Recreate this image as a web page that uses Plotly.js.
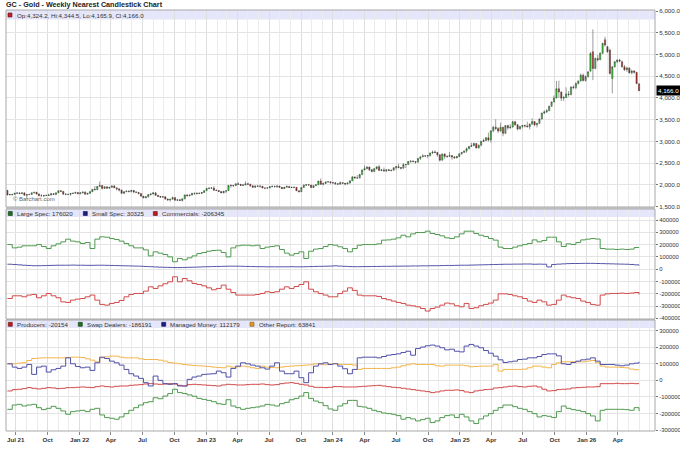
<!DOCTYPE html>
<html>
<head>
<meta charset="utf-8">
<script src="https://cdn.plot.ly/plotly-3.0.1.min.js"></script>
<style>
  html, body { margin: 0; padding: 0; background: #fff; }
  #chart { width: 680px; height: 453px; }
</style>
</head>
<body>
<div id="chart"></div>
<script>
// Weekly candles, first bar is the week of 2021-06-07, one bar per week
var opens = [
	1877,1769,1781,1783,1810,1815,1802,1817,1763,1779,
	1781,1819,1833,1792,1751,1751,1760,1757,1768,1796,
	1784,1818,1868,1852,1788,1784,1784,1805,1811,1829,
	1797,1818,1835,1786,1808,1842,1900,1889,1967,1985,
	1921,1958,1924,1945,1974,1934,1911,1882,1808,1842,
	1857,1850,1875,1840,1830,1801,1742,1703,1727,1781,
	1791,1818,1762,1738,1722,1728,1675,1655,1672,1709,
	1648,1657,1645,1681,1771,1754,1768,1809,1810,1800,
	1805,1826,1870,1921,1928,1929,1876,1874,1850,1817,
	1856,1868,1989,1983,1986,2025,2015,1990,1999,2025,
	2019,1981,1946,1969,1977,1971,1929,1929,1932,1961,
	1965,1960,1976,1946,1915,1947,1966,1942,1946,1945,
	1866,1845,1941,1994,2006,1999,1939,1984,2003,2089,
	2014,2035,2069,2071,2049,2051,2029,2018,2053,2038,
	2024,2045,2095,2185,2161,2158,2238,2345,2374,2413,
	2347,2310,2375,2418,2334,2345,2325,2349,2334,2339,
	2397,2421,2399,2386,2470,2470,2538,2546,2537,2525,
	2610,2646,2668,2667,2676,2736,2755,2749,2694,2570,
	2712,2657,2656,2675,2645,2621,2654,2715,2748,2778,
	2835,2887,2900,2953,2848,2914,3001,3022,3086,3035,
	3245,3328,3298,3240,3329,3187,3365,3315,3331,3452,
	3385,3287,3342,3365,3358,3337,3399,3458,3382,3418,
	3516,3653,3680,3705,3809,3908,4000,4213,4137,3996,
	4010,4094,4080,4255,4240,4330,4390,4525,4400,4490,
	4620,5063,4680,4910,4880,5030,5340,5178,5101,4449,
	4717,4833,4871,4833,4717,4650,4690,4580,4620,4590,
	4324.2
];
var highs = [
	1879,1797,1792,1818,1833,1834,1834,1832,1782,1796,
	1823,1836,1835,1809,1787,1766,1780,1800,1815,1813,
	1820,1870,1878,1860,1810,1793,1815,1816,1832,1830,
	1830,1848,1853,1810,1865,1903,1976,1972,2078,1995,
	1966,1961,1948,1990,2002,1935,1920,1890,1850,1870,
	1875,1880,1880,1847,1830,1810,1746,1740,1785,1810,
	1832,1825,1766,1740,1735,1740,1690,1675,1730,1712,
	1670,1680,1685,1776,1786,1770,1815,1815,1830,1830,
	1836,1872,1925,1940,1950,1975,1895,1880,1850,1860,
	1870,1995,2014,2000,2040,2063,2020,2020,2085,2048,
	2020,1985,1995,1985,1985,1975,1935,1945,1970,1990,
	1985,1985,1980,1950,1950,1985,1970,1955,1962,1950,
	1875,1945,2010,2010,2010,2000,1990,2010,2095,2150,
	2050,2080,2090,2080,2070,2060,2040,2080,2060,2040,
	2050,2100,2203,2190,2225,2255,2350,2448,2430,2420,
	2370,2385,2425,2460,2370,2400,2350,2370,2345,2400,
	2430,2485,2410,2500,2475,2550,2570,2570,2545,2615,
	2650,2710,2690,2690,2740,2790,2800,2760,2700,2720,
	2725,2680,2760,2680,2660,2670,2725,2760,2790,2860,
	2895,2970,2975,2955,2930,3017,3065,3100,3200,3250,
	3360,3509,3330,3435,3330,3370,3380,3400,3475,3475,
	3400,3365,3375,3390,3455,3415,3534,3460,3425,3530,
	3660,3715,3745,3820,3920,4060,4392,4398,4150,4050,
	4245,4160,4260,4290,4360,4400,4560,4560,4520,4620,
	5060,5577,4930,4990,5050,5270,5409,5200,5130,4730,
	4850,4890,4900,4860,4760,4720,4700,4650,4640,4600,
	4344.5
];
var lows = [
	1761,1766,1750,1780,1794,1789,1796,1759,1677,1770,
	1777,1806,1782,1745,1738,1721,1746,1750,1760,1770,
	1760,1815,1846,1780,1762,1769,1754,1791,1802,1784,
	1790,1806,1780,1780,1800,1840,1880,1885,1960,1896,
	1915,1915,1918,1943,1931,1872,1850,1800,1790,1838,
	1828,1825,1806,1820,1785,1732,1696,1697,1711,1754,
	1785,1756,1720,1700,1703,1665,1640,1615,1668,1642,
	1634,1640,1616,1673,1734,1736,1760,1770,1785,1795,
	1798,1822,1865,1905,1915,1870,1860,1835,1810,1810,
	1810,1865,1935,1950,1977,2000,1975,1980,1995,2000,
	1955,1935,1935,1955,1940,1925,1900,1912,1928,1950,
	1945,1935,1940,1905,1910,1940,1935,1925,1930,1860,
	1830,1840,1935,1975,1985,1935,1935,1975,2000,2010,
	1990,2030,2060,2035,2020,2005,2010,2015,2030,1995,
	2015,2030,2090,2150,2150,2155,2235,2340,2365,2320,
	2290,2300,2355,2325,2320,2300,2295,2325,2310,2330,
	2350,2385,2355,2375,2390,2465,2510,2520,2490,2510,
	2575,2640,2640,2620,2650,2710,2730,2650,2540,2565,
	2600,2620,2650,2580,2610,2615,2640,2700,2740,2740,
	2820,2880,2895,2845,2845,2890,2995,3010,3000,2975,
	3210,3260,3200,3230,3120,3180,3270,3290,3320,3360,
	3255,3275,3300,3320,3330,3275,3380,3350,3320,3405,
	3510,3630,3655,3700,3800,3900,3990,4005,3930,3930,
	4000,4030,4060,4200,4200,4310,4380,4380,4380,4470,
	4600,4410,4660,4840,4870,5010,5180,5040,4540,4103,
	4700,4800,4820,4700,4620,4600,4560,4540,4560,4320,
	4165.9
];
var closes = [
	1769,1781,1783,1810,1815,1802,1817,1763,1779,1781,
	1819,1833,1792,1751,1751,1760,1757,1768,1796,1784,
	1818,1868,1852,1788,1784,1784,1805,1811,1829,1797,
	1818,1835,1786,1808,1842,1900,1889,1967,1985,1921,
	1958,1924,1945,1974,1934,1911,1882,1808,1842,1857,
	1850,1875,1840,1830,1801,1742,1703,1727,1781,1791,
	1818,1762,1738,1722,1728,1675,1655,1672,1709,1648,
	1657,1645,1681,1771,1754,1768,1809,1810,1800,1805,
	1826,1870,1921,1928,1929,1876,1874,1850,1817,1856,
	1868,1989,1983,1986,2025,2015,1990,1999,2025,2019,
	1981,1946,1969,1977,1971,1929,1929,1932,1961,1965,
	1960,1976,1946,1915,1947,1966,1942,1946,1945,1866,
	1845,1941,1994,2006,1999,1939,1984,2003,2089,2014,
	2035,2069,2071,2049,2051,2029,2018,2053,2038,2024,
	2045,2095,2185,2161,2158,2238,2345,2374,2413,2347,
	2310,2375,2418,2334,2345,2325,2349,2334,2339,2397,
	2421,2399,2386,2470,2470,2538,2546,2537,2525,2610,
	2646,2668,2667,2676,2736,2755,2749,2694,2570,2712,
	2657,2656,2675,2645,2621,2654,2715,2748,2778,2835,
	2887,2900,2953,2848,2914,3001,3022,3086,3035,3245,
	3328,3298,3240,3329,3187,3365,3315,3331,3452,3385,
	3287,3342,3365,3358,3337,3399,3458,3382,3418,3516,
	3653,3680,3705,3809,3908,4000,4213,4137,3996,4010,
	4094,4080,4255,4240,4330,4390,4525,4400,4490,4600,
	5020,4679,4910,4880,5030,5255,5217,5063,4564,4717,
	4833,4871,4850,4717,4650,4690,4580,4620,4590,4330,
	4166.0
];

// COT positions in thousands of contracts, one value every 2 weeks from 2021-06-07
var largeSpec = [
	200,173,179,190,190,190,200,184,168,190,
	206,222,244,228,222,209,217,168,244,263,
	260,249,241,228,209,190,173,173,157,108,
	141,130,119,100,60,87,76,92,108,127,
	135,146,152,154,135,100,173,190,195,195,
	190,195,168,179,184,190,160,130,114,127,
	141,87,146,163,168,184,200,
	195,182,168,141,168,195,200,200,200,206,
	236,238,244,255,276,263,287,298,298,309,
	290,282,271,255,249,263,287,309,309,290,
	276,266,249,236,179,168,168,179,190,200,
	209,238,222,233,260,260,222,184,206,200,
	217,238,244,249,245,168,163,163,160,163,
	160,163,176,176.02
];
var smallSpec = [
	40,38,35,32,30,28,28,29,30,31,
	32,32,32,33,32,32,31,31,32,32,
	31,30,29,28,27,26,25,24,22,20,
	18,16,15,14,13,13,14,15,16,17,
	19,20,21,22,23,24,24,24,23,22,
	21,20,20,19,19,19,19,19,20,19,
	19,20,21,22,23,24,25,
	27,25,23,21,20,20,21,21,22,22,
	23,23,24,24,25,25,26,26,27,27,
	28,28,29,30,30,31,32,32,33,34,
	35,36,37,38,39,40,40,41,41,42,
	42,40,41,40,18,38,41,43,45,46,
	46,47,47,47,46,45,44,43,42,41,
	40,38,35,30.325
];
var commercials = [
	-239,-217,-217,-225,-211,-206,-233,-217,-198,-217,
	-233,-266,-271,-252,-244,-239,-225,-211,-252,-287,
	-293,-279,-271,-255,-225,-206,-198,-198,-179,-144,
	-157,-136,-119,-103,-62,-103,-76,-95,-117,-125,
	-136,-152,-168,-157,-130,-163,-190,-211,-211,-211,
	-211,-206,-198,-184,-190,-184,-163,-144,-157,-141,
	-125,-103,-163,-184,-198,-211,-225,
	-225,-198,-179,-152,-173,-211,-217,-217,-217,-222,
	-239,-249,-260,-271,-279,-293,-298,-306,-320,-341,
	-320,-309,-293,-276,-282,-298,-306,-279,-320,-314,
	-298,-287,-276,-252,-201,-201,-206,-217,-225,-239,
	-260,-271,-252,-266,-293,-287,-252,-211,-225,-233,
	-239,-260,-271,-287,-293,-211,-201,-198,-198,-195,
	-198,-195,-190,-206.345
];
var producers = [
	-64,-56,-54,-50,-44,-48,-52,-48,-44,-46,
	-50,-48,-44,-44,-42,-40,-42,-44,-38,-34,
	-38,-40,-36,-34,-34,-30,-28,-26,-22,-20,
	-22,-24,-22,-20,-22,-30,-34,-26,-24,-26,
	-28,-30,-32,-34,-28,-24,-26,-28,-28,-26,
	-24,-24,-22,-26,-28,-26,-20,-16,-14,-18,
	-24,-28,-36,-42,-42,-44,-42,
	-38,-38,-40,-40,-40,-38,-36,-34,-32,-30,
	-34,-38,-42,-44,-48,-52,-56,-60,-64,-68,
	-74,-70,-64,-60,-60,-58,-62,-70,-74,-64,
	-60,-56,-54,-46,-44,-40,-36,-34,-38,-40,
	-36,-34,-40,-54,-64,-62,-56,-54,-52,-46,
	-44,-42,-40,-40,-38,-20,-20,-20,-18,-20,
	-20,-18,-20,-20.154
];
var swapDealers = [
	-175,-149,-145,-155,-149,-145,-165,-177,-169,-157,
	-169,-185,-205,-189,-185,-181,-189,-175,-169,-209,
	-225,-229,-235,-221,-201,-181,-165,-149,-135,-129,
	-105,-111,-95,-80,-54,-74,-80,-88,-96,-109,
	-115,-121,-129,-141,-145,-117,-155,-165,-175,-169,
	-165,-161,-155,-145,-149,-155,-141,-133,-117,-109,
	-95,-74,-109,-125,-135,-153,-173,
	-181,-155,-141,-121,-121,-157,-161,-169,-181,-189,
	-197,-201,-205,-213,-235,-225,-233,-245,-237,-229,
	-255,-245,-225,-213,-209,-225,-205,-221,-245,-261,
	-233,-215,-201,-181,-165,-149,-149,-159,-169,-175,
	-189,-201,-221,-213,-217,-225,-189,-155,-169,-177,
	-181,-189,-201,-215,-245,-181,-175,-175,-175,-175,
	-177,-181,-165,-186.191
];
var managedMoney = [
	100,80,72,80,96,36,80,86,50,64,
	72,86,136,100,84,76,80,60,106,140,
	132,116,106,92,66,40,26,12,-14,-34,
	26,0,-20,-24,-20,-34,-34,6,20,26,
	36,38,40,56,46,20,72,86,106,100,
	92,86,76,68,86,106,56,40,40,56,
	16,-14,46,86,100,106,96,
	100,86,70,40,66,136,140,140,140,136,
	144,152,156,160,168,176,152,192,201,209,
	213,207,197,184,188,176,172,207,217,207,
	197,180,164,146,124,108,112,116,126,128,
	136,136,144,156,160,160,148,100,96,108,
	116,124,128,136,116,96,96,96,92,88,
	92,100,104,112.179
];
var otherReport = [
	100,100,104,106,120,132,134,136,136,136,
	136,136,138,140,140,138,130,122,112,136,
	142,146,146,140,136,136,136,130,126,126,
	126,122,116,108,104,100,96,92,90,88,
	86,84,80,78,76,86,80,82,86,82,
	76,72,86,80,78,76,80,84,86,88,
	90,92,94,100,98,94,98,
	102,96,96,96,92,66,72,72,72,72,
	72,72,76,80,88,94,100,96,96,96,
	96,88,86,92,92,92,92,88,82,84,
	86,86,86,96,56,66,66,66,66,68,
	76,86,86,80,76,96,106,112,112,112,
	112,112,116,120,106,86,80,80,80,78,
	76,68,64,63.841
];

// x axis labels, one per quarter
var tickDates = ['2021-07-01', '2021-10-01', '2022-01-01', '2022-04-01', '2022-07-01', '2022-10-01',
	'2023-01-01', '2023-04-01', '2023-07-01', '2023-10-01', '2024-01-01', '2024-04-01', '2024-07-01',
	'2024-10-01', '2025-01-01', '2025-04-01', '2025-07-01', '2025-10-01', '2026-01-01', '2026-04-01'];
var tickLabels = ['Jul 21', 'Oct', 'Jan 22', 'Apr', 'Jul', 'Oct', 'Jan 23', 'Apr', 'Jul', 'Oct', 'Jan 24',
	'Apr', 'Jul', 'Oct', 'Jan 25', 'Apr', 'Jul', 'Oct', 'Jan 26', 'Apr'];

var priceTicks = [1500, 2000, 2500, 3000, 3500, 4000, 4500, 5000, 5500, 6000];
var cotTicks = [-400000, -300000, -200000, -100000, 0, 100000, 200000, 300000, 400000];
var otherTicks = [-300000, -200000, -100000, 0, 100000, 200000, 300000];

var FONT = 'Liberation Sans, Arial, sans-serif';
var DAY = 86400000;
var start = Date.UTC(2021, 5, 7);

var isoDay = function(ms) {
	return new Date(ms).toISOString().slice(0, 10);
}

var weekDates = [];
for (var i = 0; i < closes.length; i++) weekDates.push(isoDay(start + i * 7 * DAY));
var cotDates = [];
for (var j = 0; j < largeSpec.length; j++) cotDates.push(isoDay(start + j * 14 * DAY));

// thousands -> contracts
var k = function(arr) {
	return arr.map(function(v) { return Math.round(v * 1000); });
}
var last = function(arr) { return Math.round(arr[arr.length - 1] * 1000); }
var fmt1 = function(v) {
	return v.toLocaleString('en-US', {minimumFractionDigits: 1, maximumFractionDigits: 1});
}

// pixel -> paper helpers (plot area is x 6..655, y 10..431)
var px = function(x) { return (x - 6) / 649; }
var py = function(y) { return (431 - y) / 421; }

var stepLine = function(y, color, axis) {
	return {
		type: 'scatter', mode: 'lines', x: cotDates, y: k(y),
		line: {color: color, width: 1, shape: 'hv'},
		xaxis: 'x', yaxis: axis, hoverinfo: 'skip'
	};
}

var data = [
	{
		type: 'candlestick', x: weekDates,
		open: opens, high: highs, low: lows, close: closes,
		increasing: {line: {color: '#3a3a3a', width: 0.5}, fillcolor: '#2fd82f'},
		decreasing: {line: {color: '#3a3a3a', width: 0.5}, fillcolor: '#c81f1f'},
		whiskerwidth: 0, hoverinfo: 'skip', xaxis: 'x', yaxis: 'y'
	},
	stepLine(largeSpec, '#4f9a4f', 'y2'),
	stepLine(smallSpec, '#5656aa', 'y2'),
	stepLine(commercials, '#d24a4a', 'y2'),
	stepLine(producers, '#d24a4a', 'y3'),
	stepLine(swapDealers, '#4f9a4f', 'y3'),
	stepLine(otherReport, '#f2b54c', 'y3'),
	stepLine(managedMoney, '#5050a8', 'y3')
];

var yBase = {
	side: 'right', anchor: 'x', showgrid: true, gridcolor: '#e4e4e4', zeroline: false,
	ticks: 'outside', ticklen: 2, tickcolor: '#777', showline: false,
	tickfont: {family: FONT, size: 6.2, color: '#333'}, fixedrange: true
};

var yaxis = Object.assign({}, yBase, {
	domain: [py(207), 1], range: [1493, 6023],
	tickvals: priceTicks, ticktext: priceTicks.map(fmt1)
});
var yaxis2 = Object.assign({}, yBase, {
	domain: [py(319), py(209)], range: [-405700, 489500],
	tickvals: cotTicks, ticktext: cotTicks.map(String),
	tickfont: {family: FONT, size: 5.9, color: '#333'}
});
var yaxis3 = Object.assign({}, yBase, {
	domain: [0, py(320)], range: [-306000, 364600],
	tickvals: otherTicks, ticktext: otherTicks.map(String),
	tickfont: {family: FONT, size: 5.9, color: '#333'}
});

var shapes = [];
var annotations = [];

// lavender header strip on top of each panel
var strip = function(top, bottom) {
	shapes.push({type: 'rect', xref: 'paper', yref: 'paper', x0: 0, x1: 1, y0: py(bottom), y1: py(top),
		fillcolor: '#e6e6fa', line: {width: 0}, layer: 'below'});
}
strip(10, 19.5);
strip(209, 217);
strip(320, 328);

// grey bands between panels
shapes.push({type: 'rect', xref: 'paper', yref: 'paper', x0: 0, x1: 1, y0: py(209), y1: py(207),
	fillcolor: '#cfcfcf', line: {width: 0}});
shapes.push({type: 'rect', xref: 'paper', yref: 'paper', x0: 0, x1: 1, y0: py(320), y1: py(319),
	fillcolor: '#cfcfcf', line: {width: 0}});

// panel frames
['y domain', 'y2 domain', 'y3 domain'].forEach(function(ref) {
	shapes.push({type: 'rect', xref: 'paper', yref: ref, x0: 0, x1: 1, y0: 0, y1: 1,
		line: {color: '#a8a8a8', width: 1}, fillcolor: 'rgba(0,0,0,0)'});
});

// legend item: little square plus text
var legendItem = function(x, y, color, edge, text) {
	shapes.push({type: 'rect', xref: 'paper', yref: 'paper', x0: px(x), x1: px(x + 4),
		y0: py(y + 2), y1: py(y - 2), fillcolor: color, line: {color: edge, width: 0.6}});
	annotations.push({xref: 'paper', yref: 'paper', x: px(x + 6.5), y: py(y), text: text,
		showarrow: false, xanchor: 'left', yanchor: 'middle',
		font: {family: FONT, size: 6.2, color: '#333'}});
}

legendItem(8, 15, '#c02424', '#6a0d0d',
	'Op:' + fmt1(opens[opens.length - 1]) + ', Hi:' + fmt1(highs[highs.length - 1]) +
	', Lo:' + fmt1(lows[lows.length - 1]) + ', Cl:' + fmt1(closes[closes.length - 1]));

legendItem(8.3, 213.5, '#1f6e1f', '#0d3a0d', 'Large Spec: ' + last(largeSpec));
legendItem(83.3, 213.5, '#1d1d86', '#0d0d4a', 'Small Spec: ' + last(smallSpec));
legendItem(153.3, 213.5, '#b81e1e', '#6a0d0d', 'Commercials: ' + last(commercials));

legendItem(8.3, 324.3, '#b81e1e', '#6a0d0d', 'Producers: ' + last(producers));
legendItem(78.3, 324.3, '#1f6e1f', '#0d3a0d', 'Swap Dealers: ' + last(swapDealers));
legendItem(161.7, 324.3, '#1d1d86', '#0d0d4a', 'Managed Money: ' + last(managedMoney));
legendItem(250, 324.3, '#e09a22', '#8a5a0d', 'Other Report: ' + last(otherReport));

// title
annotations.push({xref: 'paper', yref: 'paper', x: px(4), y: py(4.5), xanchor: 'left', yanchor: 'middle',
	text: '<b>GC - Gold - Weekly Nearest Candlestick Chart</b>', showarrow: false,
	font: {family: FONT, size: 7.2, color: '#222'}});

// watermark
annotations.push({xref: 'paper', yref: 'paper', x: px(11), y: py(199.5), xanchor: 'left', yanchor: 'middle',
	text: '\u00a9 Barchart.com', showarrow: false, font: {family: FONT, size: 6, color: '#666'}});

// last price box on the right axis
annotations.push({xref: 'paper', yref: 'y', x: 1, y: closes[closes.length - 1], xanchor: 'left',
	yanchor: 'middle', xshift: 1, text: fmt1(closes[closes.length - 1]), showarrow: false,
	bgcolor: '#000', borderpad: 1, font: {family: FONT, size: 6.2, color: '#fff'}});

var layout = {
	width: 680,
	height: 453,
	margin: {l: 6, r: 25, t: 10, b: 22, pad: 0},
	paper_bgcolor: '#ffffff',
	plot_bgcolor: 'rgba(0,0,0,0)',
	showlegend: false,
	xaxis: {
		type: 'date', anchor: 'y3', range: ['2021-06-03', '2026-07-17'],
		rangeslider: {visible: false}, fixedrange: true,
		tickvals: tickDates, ticktext: tickLabels,
		ticks: 'outside', ticklen: 3, tickcolor: '#888',
		tickfont: {family: FONT, size: 6.2, color: '#333', weight: 'bold'},
		showgrid: true, gridcolor: '#dedede', zeroline: false,
		minor: {dtick: 'M1', tick0: '2021-06-01', showgrid: true, gridcolor: '#ececec', ticks: ''}
	},
	yaxis: yaxis,
	yaxis2: yaxis2,
	yaxis3: yaxis3,
	shapes: shapes,
	annotations: annotations
};

Plotly.newPlot('chart', data, layout, {displayModeBar: false, staticPlot: true});
</script>
</body>
</html>
